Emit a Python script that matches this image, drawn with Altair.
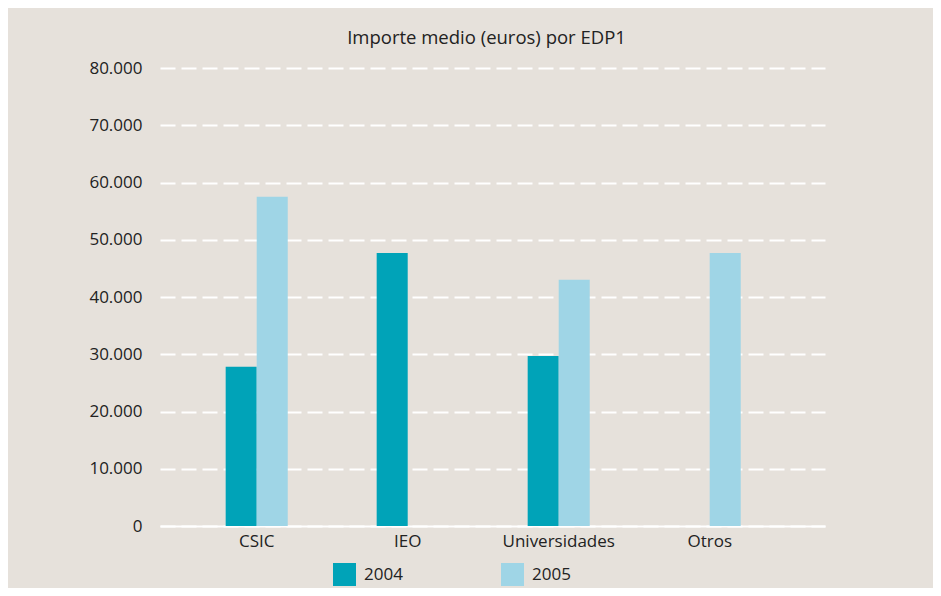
import altair as alt
import pandas as pd

categories = ["CSIC", "IEO", "Universidades", "Otros"]
years = ["2004", "2005"]
values_2004 = [27800, 47700, 29700, None]
values_2005 = [57500, None, 43000, 47700]

rows = []
for c, v4, v5 in zip(categories, values_2004, values_2005):
    rows.append({"cat": c, "year": "2004", "value": v4})
    rows.append({"cat": c, "year": "2005", "value": v5})
df = pd.DataFrame(rows)

BG = "#E6E1DB"
FONT = "Open Sans"

chart = alt.Chart(df).mark_bar().encode(
    x=alt.X("cat:N", sort=categories, title=None,
            scale=alt.Scale(paddingInner=0.589, paddingOuter=0.4965, align=0.438),
            axis=alt.Axis(labelAngle=0, ticks=False, domainColor="white", domainWidth=2,
                          labelPadding=7, labelFontSize=17, labelColor="#222222", grid=False)),
    xOffset=alt.XOffset("year:N", sort=years, scale=alt.Scale(domain=years)),
    y=alt.Y("value:Q", title=None,
            scale=alt.Scale(domain=[0, 80000], nice=False),
            axis=alt.Axis(values=list(range(0, 80001, 10000)), ticks=False, domain=False,
                          grid=True, gridColor="white", gridWidth=2, gridDash=[15, 6],
                          labelPadding=18, labelFontSize=17, labelColor="#222222",
                          labelExpr="replace(format(datum.value, ','), ',', '.')")),
    color=alt.Color("year:N", sort=years,
                    scale=alt.Scale(domain=years, range=["#00A3B8", "#9FD5E6"]),
                    legend=alt.Legend(title=None, orient="none", direction="horizontal",
                                      legendX=173, legendY=495, symbolType="square",
                                      symbolSize=529, symbolStrokeWidth=0, symbolOpacity=1,
                                      labelFontSize=17, labelColor="#222222", labelOffset=8,
                                      columnPadding=98, labelFont=FONT)),
).properties(
    width=665, height=458,
    title=alt.TitleParams("Importe medio (euros) por EDP1", fontSize=18.5, font=FONT,
                          fontWeight="normal", color="#222222", offset=12, dx=-6),
    background=BG,
    padding={"left": 152, "top": 60, "right": 108, "bottom": 62},
    autosize=alt.AutoSizeParams(type="none"),
).configure_view(stroke=None).configure_axis(labelFont=FONT)

chart.save("out.html", embed_options={"renderer": "svg", "actions": False})
